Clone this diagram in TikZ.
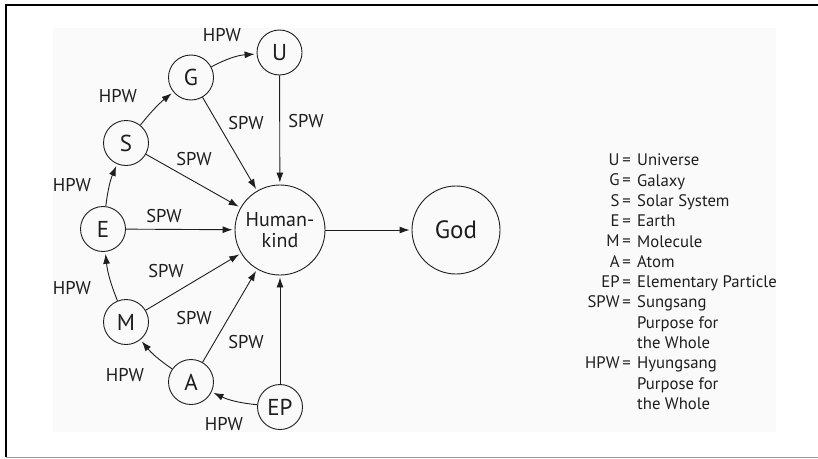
\documentclass[tikz,border=0pt]{standalone}
\usepackage{fontspec}
\setmainfont{PT Sans}
\usetikzlibrary{arrows.meta}
\definecolor{ink}{HTML}{1E1E1E}
\begin{document}
\begin{tikzpicture}[x=1pt,y=-1pt,
  every node/.style={text=ink},
  small/.style={circle,draw=ink,line width=0.9pt,minimum size=45pt,inner sep=0pt,font=\fontsize{23}{25}\selectfont},
  big/.style={circle,draw=ink,line width=0.9pt,minimum size=90pt,inner sep=0pt,align=center},
  lbl/.style={font=\fontsize{18.5}{20}\selectfont,inner sep=0pt},
  conn/.style={draw=ink,line width=0.9pt,shorten >=2pt,-{Latex[length=10pt,width=7pt]}},
  legend/.style={font=\fontsize{16.7}{20.3}\selectfont,inner sep=0pt}
]
\useasboundingbox (0,0) rectangle (818,458);
\fill[black!2] (53,28) rectangle (776,432);
% frame
\draw[black,line width=2pt] (5,5) -- (818,5);
\draw[black,line width=2pt] (6,4) -- (6,457);
\draw[black!40,line width=1pt] (6,457) -- (818,457);

% nodes
\node[small] (U) at (279.5,52.5) {U};
\node[small] (G) at (191,77.5) {G};
\node[small] (S) at (126,143) {S};
\node[small] (E) at (103,229) {E};
\node[small] (M) at (126,322) {M};
\node[small] (A) at (191,382) {A};
\node[small] (EP) at (280,407) {EP};
\node[big,font=\fontsize{20}{21}\selectfont] (H) at (280,230) {Human-\\kind};
\node[big,minimum size=88pt,font=\fontsize{25}{27}\selectfont] (God) at (456,230) {God};

% HPW connectors
\draw[conn] (G) to[bend left=12] (U);
\draw[conn] (S) to[bend left=6] (G);
\draw[conn] (E) to[bend left=8] (S);
\draw[conn] (M) to[bend left=8] (E);
\draw[conn] (A) to[bend left=8] (M);
\draw[conn] (EP) to[bend left=10] (A);
% SPW connectors
\draw[conn] (U) -- (H);
\draw[conn] (G) -- (H);
\draw[conn] (S) -- (H);
\draw[conn] (E) -- (H);
\draw[conn] (M) -- (H);
\draw[conn] (A) -- (H);
\draw[conn] (EP) -- (H);
\draw[conn] (H) -- (God);

% labels
\node[lbl] (h1) at (222,35) {HPW};
\node[lbl] (h2) at (118,96) {HPW};
\node[lbl] (h3) at (72,185) {HPW};
\node[lbl] (h4) at (72,288) {HPW};
\node[lbl] (h5) at (125,375) {HPW};
\node[lbl] (h6) at (224,424) {HPW};
\node[lbl] (s1) at (246,123) {SPW};
\node[lbl] (s2) at (306,121) {SPW};
\node[lbl] (s3) at (194,159) {SPW};
\node[lbl] (s4) at (164,216) {SPW};
\node[lbl] (s5) at (166,271) {SPW};
\node[lbl] (s6) at (194,318) {SPW};
\node[lbl] (s7) at (246,342) {SPW};

% legend
\node[legend,anchor=north east,align=right] (legk) at (631,153.8) {%
U\,=\\G\,=\\S\,=\\E\,=\\M\,=\\A\,=\\EP\,=\\SPW\,=\\\strut\\\strut\\HPW\,=};
\node[legend,anchor=north west,align=left] (legv) at (637,153.8) {%
Universe\\Galaxy\\Solar System\\Earth\\Molecule\\Atom\\Elementary Particle\\Sungsang\\Purpose for\\the Whole\\Hyungsang\\Purpose for\\the Whole};
\end{tikzpicture}
\end{document}
